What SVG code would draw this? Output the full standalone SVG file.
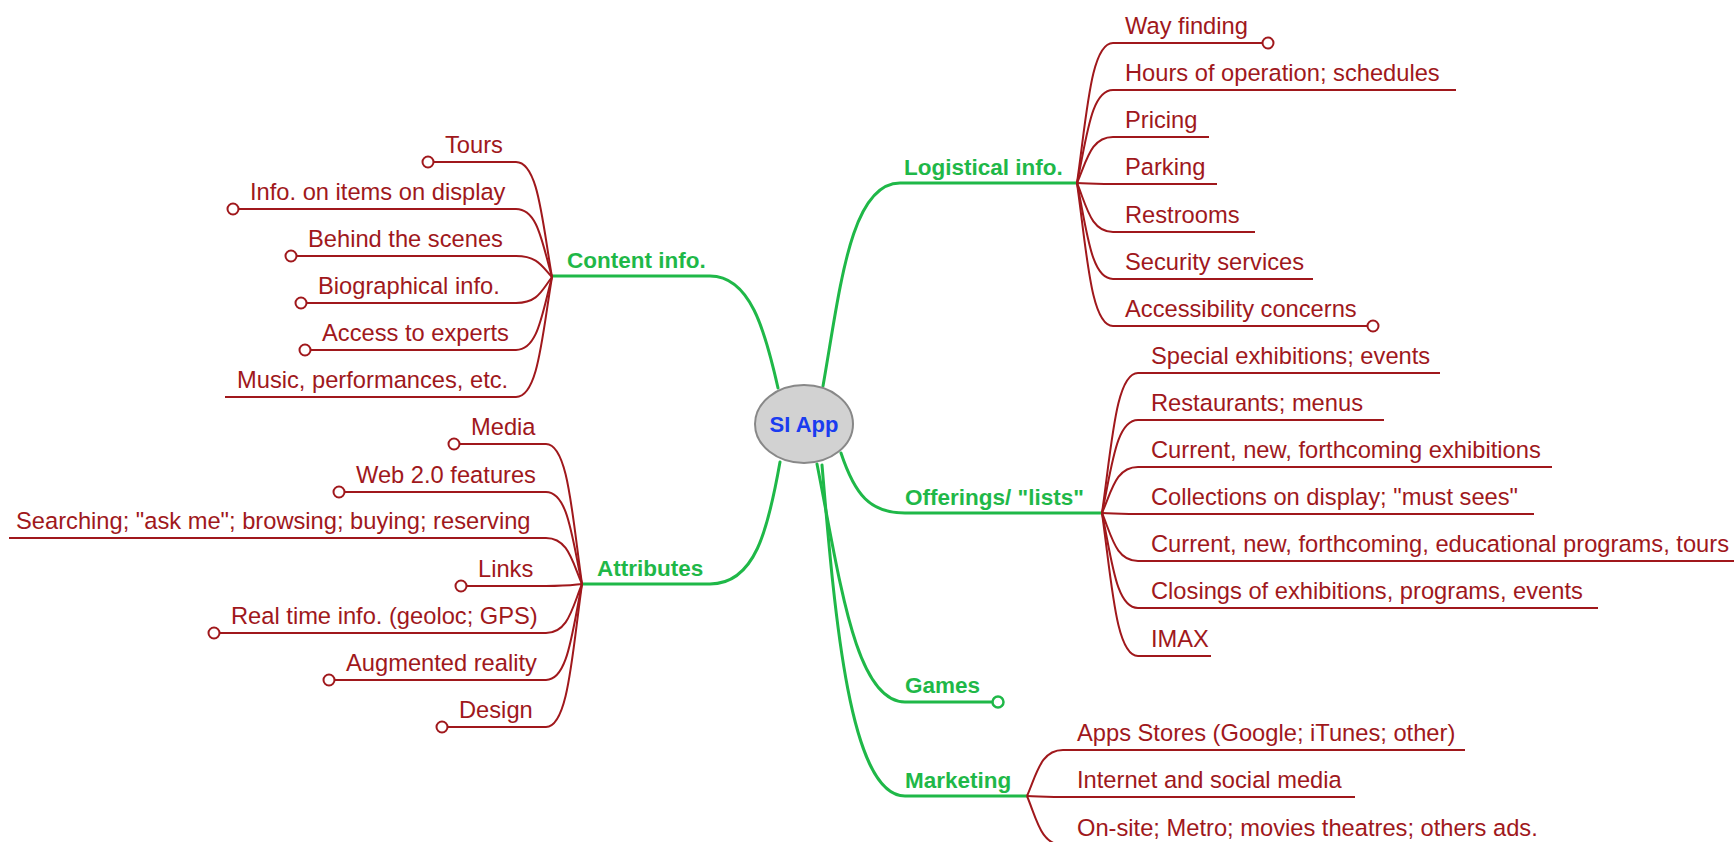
<svg xmlns="http://www.w3.org/2000/svg" width="1734" height="842" viewBox="0 0 1734 842">
<style>
.g{fill:none;stroke:#1fb848;stroke-width:3;stroke-linecap:round}
.r{fill:none;stroke:#a0181c;stroke-width:2}
.e{fill:#fff;stroke:#a0181c;stroke-width:2}
.eg{fill:#fff;stroke:#1fb848;stroke-width:2.5}
.t{font-family:"Liberation Sans",Arial,sans-serif;font-size:23.7px;fill:#a0181c}
.b{font-family:"Liberation Sans",Arial,sans-serif;font-size:22.5px;font-weight:bold;fill:#1fb848}
</style>
<rect width="1734" height="842" fill="#fff"/>
<g id="connectors">
<path class="g" d="M778,388 C765,330 750,276 710,276 L552,276"/>
<path class="g" d="M823,386 C840,290 850,183 900,183 L1077,183"/>
<path class="g" d="M841,453 C855,495 870,513 905,513 L1102,513"/>
<path class="g" d="M780,462 C768,530 755,584 710,584 L582,584"/>
<path class="g" d="M817,464 C840,580 855,702 905,702 L992.5,702"/>
<path class="g" d="M822,465 C835,620 850,796 905,796 L1027,796"/>
<path class="r" d="M1077,183 C1087,113 1091,43 1113,43 L1262.5,43"/>
<path class="r" d="M1077,183 C1087,136.5 1091,90 1113,90 L1456,90"/>
<path class="r" d="M1077,183 C1087,160 1091,137 1113,137 L1209,137"/>
<path class="r" d="M1077,183 C1087,183.5 1091,184 1113,184 L1217,184"/>
<path class="r" d="M1077,183 C1087,207.5 1091,232 1113,232 L1255,232"/>
<path class="r" d="M1077,183 C1087,231 1091,279 1113,279 L1313,279"/>
<path class="r" d="M1077,183 C1087,254.5 1091,326 1113,326 L1367.5,326"/>
<path class="r" d="M1102,513 C1112,443 1116,373 1138,373 L1440,373"/>
<path class="r" d="M1102,513 C1112,466.5 1116,420 1138,420 L1384,420"/>
<path class="r" d="M1102,513 C1112,490 1116,467 1138,467 L1552,467"/>
<path class="r" d="M1102,513 C1112,513.5 1116,514 1138,514 L1534,514"/>
<path class="r" d="M1102,513 C1112,537 1116,561 1138,561 L1734,561"/>
<path class="r" d="M1102,513 C1112,560.5 1116,608 1138,608 L1598,608"/>
<path class="r" d="M1102,513 C1112,584.5 1116,656 1138,656 L1211,656"/>
<path class="r" d="M1027,796 C1037,773 1041,750 1063,750 L1465,750"/>
<path class="r" d="M1027,796 C1037,796.5 1041,797 1063,797 L1355,797"/>
<path class="r" d="M1027,796 C1037,820 1041,845 1063,845 L1570,845"/>
<path class="r" d="M552,277 C542,219.5 538,162 516,162 L433.5,162"/>
<path class="r" d="M552,277 C542,243 538,209 516,209 L238.5,209"/>
<path class="r" d="M552,277 C542,266.5 538,256 516,256 L296.5,256"/>
<path class="r" d="M552,277 C542,290 538,303 516,303 L306.5,303"/>
<path class="r" d="M552,277 C542,313.5 538,350 516,350 L310.5,350"/>
<path class="r" d="M552,277 C542,337 538,397 516,397 L225,397"/>
<path class="r" d="M582,584 C572,514 568,444 546,444 L459.5,444"/>
<path class="r" d="M582,584 C572,538 568,492 546,492 L344.5,492"/>
<path class="r" d="M582,584 C572,561 568,538 546,538 L9,538"/>
<path class="r" d="M582,584 C572,585 568,586 546,586 L466.5,586"/>
<path class="r" d="M582,584 C572,608.5 568,633 546,633 L219.5,633"/>
<path class="r" d="M582,584 C572,632 568,680 546,680 L334.5,680"/>
<path class="r" d="M582,584 C572,655.5 568,727 546,727 L447.5,727"/>
</g>
<g id="root">
<ellipse cx="804" cy="424" rx="49" ry="39" fill="#d2d2d2" stroke="#888" stroke-width="2"/>
<text x="804" y="432" text-anchor="middle" font-family="Liberation Sans,Arial,sans-serif" font-size="22px" font-weight="bold" fill="#1a3cf0">SI App</text>
</g>
<g id="content-info"><text class="b" x="567" y="268">Content info.</text></g>
<g id="logistical-info"><text class="b" x="904" y="175">Logistical info.</text></g>
<g id="offerings"><text class="b" x="905" y="505">Offerings/ "lists"</text></g>
<g id="attributes"><text class="b" x="597" y="576">Attributes</text></g>
<g id="games"><text class="b" x="905" y="693">Games</text><circle class="eg" cx="998" cy="702" r="5.5"/></g>
<g id="marketing"><text class="b" x="905" y="788">Marketing</text></g>
<g id="way-finding"><text class="t" x="1125" y="33.5">Way finding</text><circle class="e" cx="1268" cy="43" r="5.5"/></g>
<g id="hours"><text class="t" x="1125" y="80.5">Hours of operation; schedules</text></g>
<g id="pricing"><text class="t" x="1125" y="127.5">Pricing</text></g>
<g id="parking"><text class="t" x="1125" y="174.5">Parking</text></g>
<g id="restrooms"><text class="t" x="1125" y="222.5">Restrooms</text></g>
<g id="security"><text class="t" x="1125" y="269.5">Security services</text></g>
<g id="accessibility"><text class="t" x="1125" y="316.5">Accessibility concerns</text><circle class="e" cx="1373" cy="326" r="5.5"/></g>
<g id="special"><text class="t" x="1151" y="363.5">Special exhibitions; events</text></g>
<g id="restaurants"><text class="t" x="1151" y="410.5">Restaurants; menus</text></g>
<g id="current-exhibitions"><text class="t" x="1151" y="457.5">Current, new, forthcoming exhibitions</text></g>
<g id="collections"><text class="t" x="1151" y="504.5">Collections on display; "must sees"</text></g>
<g id="current-programs"><text class="t" x="1151" y="551.5">Current, new, forthcoming, educational programs, tours</text></g>
<g id="closings"><text class="t" x="1151" y="598.5">Closings of exhibitions, programs, events</text></g>
<g id="imax"><text class="t" x="1151" y="646.5">IMAX</text></g>
<g id="apps-stores"><text class="t" x="1077" y="740.5">Apps Stores (Google; iTunes; other)</text></g>
<g id="internet"><text class="t" x="1077" y="787.5">Internet and social media</text></g>
<g id="on-site"><text class="t" x="1077" y="835.5">On-site; Metro; movies theatres; others ads.</text></g>
<g id="tours"><text class="t" x="445" y="152.5">Tours</text><circle class="e" cx="428" cy="162" r="5.5"/></g>
<g id="info-items"><text class="t" x="250" y="199.5">Info. on items on display</text><circle class="e" cx="233" cy="209" r="5.5"/></g>
<g id="behind"><text class="t" x="308" y="246.5">Behind the scenes</text><circle class="e" cx="291" cy="256" r="5.5"/></g>
<g id="biographical"><text class="t" x="318" y="293.5">Biographical info.</text><circle class="e" cx="301" cy="303" r="5.5"/></g>
<g id="experts"><text class="t" x="322" y="340.5">Access to experts</text><circle class="e" cx="305" cy="350" r="5.5"/></g>
<g id="music"><text class="t" x="237" y="387.5">Music, performances, etc.</text></g>
<g id="media"><text class="t" x="471" y="434.5">Media</text><circle class="e" cx="454" cy="444" r="5.5"/></g>
<g id="web20"><text class="t" x="356" y="482.5">Web 2.0 features</text><circle class="e" cx="339" cy="492" r="5.5"/></g>
<g id="searching"><text class="t" x="16" y="528.5">Searching; "ask me"; browsing; buying; reserving</text></g>
<g id="links"><text class="t" x="478" y="576.5">Links</text><circle class="e" cx="461" cy="586" r="5.5"/></g>
<g id="real-time"><text class="t" x="231" y="623.5">Real time info. (geoloc; GPS)</text><circle class="e" cx="214" cy="633" r="5.5"/></g>
<g id="augmented"><text class="t" x="346" y="670.5">Augmented reality</text><circle class="e" cx="329" cy="680" r="5.5"/></g>
<g id="design"><text class="t" x="459" y="717.5">Design</text><circle class="e" cx="442" cy="727" r="5.5"/></g>
</svg>
